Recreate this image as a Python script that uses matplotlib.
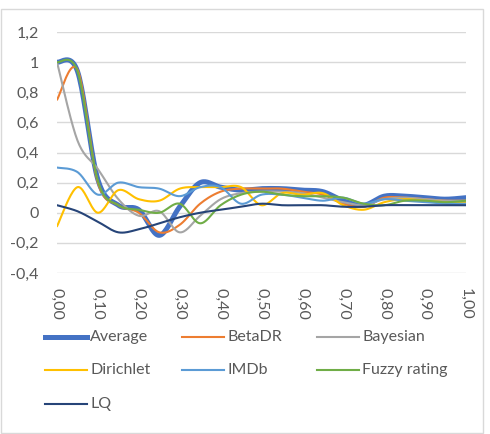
import numpy as np
import matplotlib
matplotlib.use("Agg")
import matplotlib.pyplot as plt
from matplotlib.lines import Line2D
from matplotlib.patches import Rectangle

x_vals = [0.00, 0.05, 0.10, 0.15, 0.20, 0.25, 0.30, 0.35, 0.40, 0.45, 0.50,
          0.55, 0.60, 0.65, 0.70, 0.75, 0.80, 0.85, 0.90, 0.95, 1.00]

average = [1.00, 0.94, 0.22, 0.05, 0.02, -0.15, 0.04, 0.20, 0.17, 0.15, 0.16,
           0.16, 0.15, 0.14, 0.08, 0.05, 0.11, 0.11, 0.10, 0.09, 0.10]
betadr = [0.75, 0.95, 0.20, 0.05, 0.00, -0.13, -0.08, 0.06, 0.14, 0.16, 0.16,
          0.16, 0.14, 0.12, 0.06, 0.04, 0.10, 0.10, 0.09, 0.08, 0.08]
bayesian = [1.00, 0.48, 0.29, 0.09, -0.02, 0.01, -0.13, -0.02, 0.09, 0.13, 0.14,
            0.14, 0.13, 0.10, 0.07, 0.05, 0.09, 0.10, 0.09, 0.08, 0.08]
dirichlet = [-0.09, 0.17, 0.00, 0.15, 0.09, 0.08, 0.16, 0.17, 0.17, 0.17, 0.05,
             0.13, 0.12, 0.13, 0.05, 0.02, 0.07, 0.09, 0.08, 0.07, 0.07]
imdb = [0.30, 0.27, 0.12, 0.20, 0.17, 0.16, 0.11, 0.17, 0.17, 0.06, 0.12,
        0.12, 0.10, 0.08, 0.10, 0.06, 0.09, 0.08, 0.07, 0.06, 0.06]
fuzzy = [1.00, 0.94, 0.21, 0.05, 0.02, 0.00, 0.06, -0.07, 0.05, 0.12, 0.14,
         0.12, 0.11, 0.11, 0.10, 0.06, 0.05, 0.08, 0.08, 0.07, 0.08]
lq = [0.05, 0.01, -0.06, -0.13, -0.11, -0.07, -0.03, 0.00, 0.02, 0.04, 0.06,
      0.05, 0.05, 0.05, 0.04, 0.04, 0.05, 0.05, 0.05, 0.05, 0.05]

series_names = ["Average", "BetaDR", "Bayesian", "Dirichlet", "IMDb", "Fuzzy rating", "LQ"]
series_vals = [average, betadr, bayesian, dirichlet, imdb, fuzzy, lq]
colors = ["#4472C4", "#ED7D31", "#A5A5A5", "#FFC000", "#5B9BD5", "#70AD47", "#264478"]
widths = [3.6, 1.5, 1.5, 1.5, 1.5, 1.5, 1.5]

y_ticks = [-0.4, -0.2, 0, 0.2, 0.4, 0.6, 0.8, 1, 1.2]
y_tick_labels = ["-0,4", "-0,2", "0", "0,2", "0,4", "0,6", "0,8", "1", "1,2"]
x_ticks = [0.0, 0.1, 0.2, 0.3, 0.4, 0.5, 0.6, 0.7, 0.8, 0.9, 1.0]
x_tick_labels = ["0,00", "0,10", "0,20", "0,30", "0,40", "0,50", "0,60", "0,70", "0,80", "0,90", "1,00"]


def smooth(xs, ys, n=20):
    xs = np.asarray(xs, float)
    ys = np.asarray(ys, float)
    P = np.column_stack([xs, ys])
    Pe = np.vstack([P[0], P, P[-1]])
    out = []
    t = np.linspace(0, 1, n, endpoint=False)
    for i in range(len(P) - 1):
        p0, p1, p2, p3 = Pe[i], Pe[i + 1], Pe[i + 2], Pe[i + 3]
        c1 = p1 + (p2 - p0) / 6.0
        c2 = p2 - (p3 - p1) / 6.0
        seg = ((1 - t) ** 3)[:, None] * p1 + (3 * (1 - t) ** 2 * t)[:, None] * c1 \
            + (3 * (1 - t) * t ** 2)[:, None] * c2 + (t ** 3)[:, None] * p2
        out.append(seg)
    out.append(P[-1][None, :])
    out = np.vstack(out)
    return out[:, 0], out[:, 1]


plt.rcParams['font.family'] = ['Lato', 'DejaVu Sans']
text_color = "#595959"
FS = 11.5

fig = plt.figure(figsize=(4.9, 4.34), dpi=100)
W, H = 490, 434
ax = fig.add_axes([57 / W, 1 - 273 / H, (466 - 57) / W, (273 - 32) / H])

for name, vals, c, lw in zip(series_names, series_vals, colors, widths):
    sx, sy = smooth(x_vals, vals)
    ax.plot(sx, sy, color=c, lw=lw, solid_capstyle='round', solid_joinstyle='round')

ax.set_xlim(0, 1)
ax.set_ylim(-0.4, 1.2)
ax.set_yticks(y_ticks)
ax.set_yticklabels(y_tick_labels, fontsize=FS, color=text_color)
ax.set_xticks(x_ticks)
ax.set_xticklabels(x_tick_labels, fontsize=FS, color=text_color, rotation=270)
ax.tick_params(length=0)
ax.tick_params(axis='y', pad=13)
ax.tick_params(axis='x', pad=11)
ax.grid(axis='y', color="#D9D9D9", lw=1)
ax.set_axisbelow(True)
for s in ax.spines.values():
    s.set_visible(False)

# outer chart border
fig.patches.append(Rectangle((1 / W, 1 / H), 1 - 8 / W, 1 - 10 / H, transform=fig.transFigure,
                             fill=False, edgecolor="#D9D9D9", lw=1))

# legend
col_x = [45, 182, 317]
row_y = [337, 370, 404]
for i, (name, c, lw) in enumerate(zip(series_names, colors, widths)):
    r, col = divmod(i, 3)
    x0 = col_x[col]
    y0 = row_y[r]
    fig.lines.append(Line2D([x0 / W, (x0 + 42) / W], [1 - y0 / H, 1 - y0 / H],
                            transform=fig.transFigure, color=c, lw=lw))
    fig.text((x0 + 45) / W, 1 - y0 / H, name, fontsize=FS, color=text_color,
             va='center', ha='left')

fig.savefig("out.png", dpi=100)
